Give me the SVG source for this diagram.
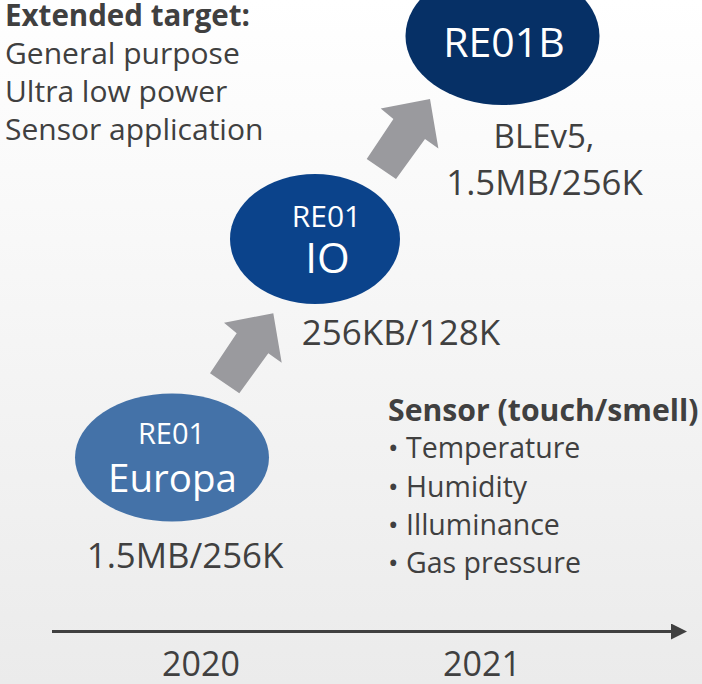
<svg xmlns="http://www.w3.org/2000/svg" width="702" height="684" viewBox="0 0 702 684">
<defs>
<linearGradient id="bg" x1="0" y1="0" x2="0" y2="1">
<stop offset="0" stop-color="#ffffff"/>
<stop offset="1" stop-color="#ebebeb"/>
</linearGradient>
<marker id="tl" viewBox="0 0 16 16" refX="0" refY="8" markerWidth="16" markerHeight="16" markerUnits="userSpaceOnUse" orient="auto">
<path d="M0,0 L16,8 L0,16 Z" fill="#404040"/>
</marker>
</defs>
<style>
text{font-family:"Open Sans","Noto Sans","DejaVu Sans",sans-serif;fill:#404040}
.w{fill:#ffffff;text-anchor:middle}
.c{text-anchor:middle}
.b{font-weight:bold}
.arrow{fill:#9a9a9e}
</style>
<rect x="0" y="0" width="702" height="684" fill="url(#bg)"/>
<g id="connectors">
<path class="arrow" d="M273.3,313.3 L224,322.7 L236.7,333.3 L210,373.3 L239.3,393.3 L268.3,353.3 L281.7,362.7 Z"/>
<path class="arrow" d="M430,99 L380.7,108.4 L393.4,119 L366.7,159 L396,179 L425,139 L438.4,148.4 Z"/>
<line x1="52" y1="631.5" x2="671" y2="631.5" stroke="#404040" stroke-width="3" marker-end="url(#tl)"/>
</g>
<g id="target-text">
<text x="5" y="26" class="b" font-size="29.5">Extended target:</text>
<text x="5" y="64" font-size="30">General purpose</text>
<text x="5" y="102" font-size="30">Ultra low power</text>
<text x="5" y="140" font-size="30">Sensor application</text>
</g>
<g id="re01b">
<ellipse cx="502.5" cy="36" rx="97" ry="69" fill="#063066"/>
<text x="504" y="57" class="w" font-size="41">RE01B</text>
<text x="544" y="148" class="c" font-size="33">BLEv5,</text>
<text x="544.5" y="195" class="c" font-size="34.8">1.5MB/256K</text>
</g>
<g id="re01-io">
<ellipse cx="315" cy="239" rx="85" ry="65" fill="#0b438b"/>
<text x="326.5" y="227" class="w" font-size="30">RE01</text>
<text x="327.5" y="273" class="w" font-size="42">IO</text>
<text x="401" y="345" class="c" font-size="35">256KB/128K</text>
</g>
<g id="re01-europa">
<ellipse cx="172" cy="457.5" rx="97" ry="64" fill="#4472a8"/>
<text x="171.5" y="444" class="w" font-size="29">RE01</text>
<text x="172.5" y="492" class="w" font-size="38.5">Europa</text>
<text x="185" y="568" class="c" font-size="34.8">1.5MB/256K</text>
</g>
<g id="sensor">
<text x="388" y="421" class="b" font-size="30.2">Sensor (touch/smell)</text>
<text x="388" y="458" font-size="28">•</text>
<text x="406" y="458" font-size="28.5">Temperature</text>
<text x="388" y="497" font-size="28">•</text>
<text x="406" y="497" font-size="28.5">Humidity</text>
<text x="388" y="535" font-size="28">•</text>
<text x="406" y="535" font-size="28.5">Illuminance</text>
<text x="388" y="573" font-size="28">•</text>
<text x="406" y="573" font-size="28.5">Gas pressure</text>
</g>
<g id="years">
<text x="201" y="676" class="c" font-size="34">2020</text>
<text x="482" y="676" class="c" font-size="34">2021</text>
</g>
</svg>
